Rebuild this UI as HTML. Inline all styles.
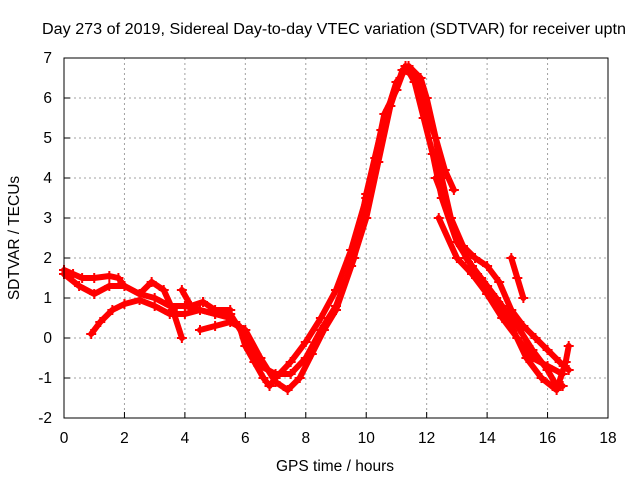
<!DOCTYPE html>
<html><head><meta charset="utf-8"><style>
body{margin:0;background:#fff;}
svg text{font-family:"Liberation Sans",sans-serif;font-size:15.5px;fill:#000;}
</style></head><body>
<svg id="chart" width="640" height="480" xmlns="http://www.w3.org/2000/svg">
<text x="42" y="34" textLength="584" lengthAdjust="spacingAndGlyphs">Day 273 of 2019, Sidereal Day-to-day VTEC variation (SDTVAR) for receiver uptn</text>
<text x="335" y="471" text-anchor="middle">GPS time / hours</text>
<text transform="translate(19,238) rotate(-90)" text-anchor="middle">SDTVAR / TECUs</text>
<g id="grid"></g><g id="ticks"></g><g id="series"></g>
<rect x="64" y="58" width="544" height="360" fill="none" stroke="#000" stroke-width="1"/>
</svg>
<script>
const xTicks=[0,2,4,6,8,10,12,14,16,18];
const yTicks=[-2,-1,0,1,2,3,4,5,6,7];
const trackA=[[0,1.7],[0.3,1.6],[0.6,1.5],[1,1.5],[1.5,1.55],[1.8,1.5],[2,1.3],[2.5,1.1],[3,1.0],[3.5,0.8],[4,0.8],[4.5,0.7],[5,0.6],[5.5,0.5],[5.8,0.3],[6,-0.2],[6.3,-0.6],[6.6,-1.0],[6.8,-1.2],[7,-1.0],[7.5,-0.6],[8,-0.1],[8.5,0.5],[9,1.2],[9.5,2.2],[10,3.5],[10.3,4.5],[10.6,5.6],[11,6.2],[11.3,6.8],[11.6,6.4],[11.9,5.5],[12.2,4.6],[12.5,3.5],[13,2.4],[13.5,1.8],[14,1.3],[14.5,0.8],[15,0.3],[15.5,-0.3],[16,-0.8],[16.3,-1.2],[16.5,-1.2]];
const trackB=[[0.9,0.1],[1.2,0.4],[1.6,0.7],[2,0.85],[2.5,0.95],[3,0.8],[3.5,0.6],[4,0.6],[4.5,0.7],[5,0.6],[5.5,0.6],[6,0.0],[6.5,-0.7],[7,-0.9],[7.5,-0.9],[8,-0.5],[8.5,0.2],[9,0.8],[9.5,1.8],[10,3.0],[10.4,4.4],[10.8,5.8],[11.2,6.7],[11.5,6.6],[11.8,6.2],[12,5.6],[12.3,5.0],[12.6,4.2],[12.9,3.7]];
const trackC=[[0,1.6],[0.5,1.3],[1,1.1],[1.5,1.3],[2,1.3],[2.5,1.1],[2.9,1.4],[3.3,1.2],[3.6,0.7],[3.9,0.0]];
const trackD=[[4.5,0.2],[5,0.3],[5.5,0.4],[6,0.2],[6.5,-0.5],[7,-1.1],[7.4,-1.3],[7.8,-1.0],[8.2,-0.4],[8.6,0.2],[9,0.7],[9.6,2.0],[10,3.6],[10.5,5.2],[11,6.4],[11.4,6.8],[11.8,6.5],[12,6.0],[12.3,5.0],[12.5,4.0],[12.8,3.0],[13.2,2.3],[13.6,2.0],[14,1.8],[14.4,1.4],[14.8,0.7],[15.2,0.3],[15.6,0.0],[16,-0.3],[16.4,-0.6],[16.7,-0.8]];
const trackE=[[12.3,4.0],[12.8,3.0],[13.3,2.0],[13.8,1.5],[14.3,1.0],[14.8,0.3],[15.3,-0.5],[15.8,-1.0],[16.3,-1.3],[16.6,-0.6],[16.7,-0.2]];
const trackF=[[12.4,3.0],[13,2.0],[13.5,1.6],[14,1.1],[14.5,0.5],[15,0.0],[15.5,-0.5],[16,-0.7],[16.5,-0.9]];
const trackG=[[14.8,2.0],[15,1.5],[15.2,1.0]];
const trackH=[[3.9,1.2],[4.2,0.8],[4.6,0.9],[5,0.7],[5.5,0.7]];
const tracks=[trackA,trackB,trackC,trackD,trackE,trackF,trackG,trackH];
const NS="http://www.w3.org/2000/svg";
const X=v=>64+v*(544/18), Y=v=>418-(v+2)*40;
const grid=document.getElementById('grid'),ticks=document.getElementById('ticks'),ser=document.getElementById('series');
function mk(t,a,p){const e=document.createElementNS(NS,t);for(const k in a)e.setAttribute(k,a[k]);p.appendChild(e);return e;}
xTicks.forEach(v=>{const x=X(v);
 if(v>0&&v<18){const l=mk('line',{x1:x,x2:x,y1:58,y2:418,stroke:'#a0a0a0','stroke-dasharray':'2,3'},grid);}
 const t=mk('line',{x1:x,x2:x,y1:418,y2:412,stroke:'#000'},ticks);
 const tx=mk('text',{x:x,y:443,'text-anchor':'middle'},ticks);tx.textContent=v;});
yTicks.forEach(v=>{const y=Y(v);
 if(v>-2&&v<7){const l=mk('line',{x1:64,x2:608,y1:y,y2:y,stroke:'#a0a0a0','stroke-dasharray':'2,3'},grid);}
 const t=mk('line',{x1:64,x2:70,y1:y,y2:y,stroke:'#000'},ticks);
 const tx=mk('text',{x:52,y:y+5,'text-anchor':'end'},ticks);tx.textContent=v;});
tracks.forEach(tr=>{
 const pl=mk('polyline',{points:tr.map(p=>X(p[0])+','+Y(p[1])).join(' '),fill:'none',stroke:'#ff0000','stroke-width':6,'stroke-linejoin':'round','stroke-linecap':'round'},ser);
 
 
 tr.forEach(p=>{const x=X(p[0]),y=Y(p[1]);
  const m=mk('path',{d:`M${x-5},${y}H${x+5}M${x},${y-5}V${y+5}`,stroke:'#ff0000','stroke-width':2},ser);
  
  });
});
</script>
</body></html>
